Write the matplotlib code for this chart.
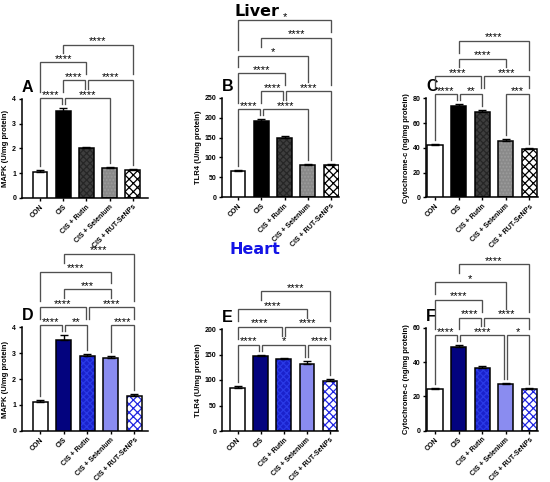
import matplotlib
matplotlib.use("Agg")
import matplotlib.pyplot as plt
import numpy as np

plt.rcParams['font.family'] = ['Liberation Sans', 'DejaVu Sans']
plt.rcParams['hatch.linewidth'] = 0.9

groups = ["CON", "CIS", "CIS + Rutin", "CIS + Selenium", "CIS + RUT-SeNPs"]

mapk_liver = [1.07, 3.52, 2.00, 1.22, 1.12]
mapk_liver_err = [0.05, 0.12, 0.08, 0.04, 0.05]
tlr4_liver = [66, 192, 150, 80, 81]
tlr4_liver_err = [3, 5, 5, 4, 3]
cyt_liver = [42.3, 74.0, 69.2, 45.3, 39.3]
cyt_liver_err = [1.0, 1.2, 1.0, 2.0, 0.8]

mapk_heart = [1.11, 3.52, 2.90, 2.80, 1.35]
mapk_heart_err = [0.06, 0.18, 0.08, 0.08, 0.06]
tlr4_heart = [85, 148, 141, 132, 98]
tlr4_heart_err = [3, 2, 3, 5, 3]
cyt_heart = [24.3, 48.9, 36.7, 27.2, 24.3]
cyt_heart_err = [0.6, 0.8, 0.7, 0.5, 0.7]

# (group i, group j, stacking level, label)
sig_A = [(0, 1, 1, "****"), (1, 3, 1, "****"), (1, 2, 2, "****"), (2, 4, 2, "****"),
         (0, 2, 3, "****"), (1, 4, 4, "****")]
sig_B = [(0, 1, 1, "****"), (1, 3, 1, "****"), (1, 2, 2, "****"), (2, 4, 2, "****"),
         (0, 2, 3, "****"), (0, 3, 4, "*"), (1, 4, 5, "****"), (0, 4, 6, "*")]
sig_C = [(0, 1, 1, "****"), (1, 2, 1, "**"), (3, 4, 1, "***"), (0, 2, 2, "****"),
         (2, 4, 2, "****"), (1, 3, 3, "****"), (1, 4, 4, "****")]
sig_D = [(0, 1, 1, "****"), (1, 2, 1, "**"), (3, 4, 1, "****"), (0, 2, 2, "****"),
         (2, 4, 2, "****"), (1, 3, 3, "***"), (0, 3, 4, "****"), (1, 4, 5, "****")]
sig_E = [(0, 1, 1, "****"), (1, 3, 1, "*"), (3, 4, 1, "****"), (0, 2, 2, "****"),
         (2, 4, 2, "****"), (0, 3, 3, "****"), (1, 4, 4, "****")]
sig_F = [(0, 1, 1, "****"), (1, 3, 1, "****"), (3, 4, 1, "*"), (1, 2, 2, "****"),
         (2, 4, 2, "****"), (0, 2, 3, "****"), (0, 3, 4, "*"), (1, 4, 5, "****")]

liver_style = [
    dict(face="white", hatch=None, hc=None),
    dict(face="black", hatch=None, hc=None),
    dict(face="#3e3e3e", hatch="xxxxx", hc="#262626"),
    dict(face="#8a8a8a", hatch=".....", hc="#9c9c9c"),
    dict(face="white", hatch="xxxx", hc="black"),
]
heart_style = [
    dict(face="white", hatch=None, hc=None),
    dict(face="#03037e", hatch=None, hc=None),
    dict(face="#1a22cc", hatch="xxxxx", hc="#2a3ae6"),
    dict(face="#8a8cf0", hatch=None, hc=None),
    dict(face="white", hatch="xxxx", hc="#1f24e0"),
]

W, H = 550, 482
fig = plt.figure(figsize=(W / 100, H / 100), dpi=100)

panels = [
    ("A", mapk_liver, mapk_liver_err, sig_A, liver_style, "MAPK (U/mg protein)", 4, 1,
     (21.7, 148.3, 99.0, 198.0), (-0.79, 4.67)),
    ("B", tlr4_liver, tlr4_liver_err, sig_B, liver_style, "TLR4 (U/mg protein)", 250, 50,
     (221.7, 339.3, 98.0, 197.0), (-0.70, 4.35)),
    ("C", cyt_liver, cyt_liver_err, sig_C, liver_style, "Cytochrome-c (ng/mg protein)", 80, 20,
     (426.0, 538.3, 98.3, 197.3), (-0.38, 4.38)),
    ("D", mapk_heart, mapk_heart_err, sig_D, heart_style, "MAPK (U/mg protein)", 4, 1,
     (21.7, 148.3, 327.3, 430.7), (-0.78, 4.60)),
    ("E", tlr4_heart, tlr4_heart_err, sig_E, heart_style, "TLR4 (U/mg protein)", 200, 50,
     (221.7, 338.3, 329.0, 431.0), (-0.69, 4.36)),
    ("F", cyt_heart, cyt_heart_err, sig_F, heart_style, "Cytochrome-c (ng/mg protein)", 60, 20,
     (426.0, 538.3, 327.7, 430.7), (-0.38, 4.38)),
]

bw = 0.64
line_c = "#505050"

for letter, vals, errs, sig, styles, ylab, ymax, step, (l, r, t, b), xlim in panels:
    ax = fig.add_axes([l / W, 1 - b / H, (r - l) / W, (b - t) / H])
    x = np.arange(len(vals))
    for i, (v, e, st) in enumerate(zip(vals, errs, styles)):
        if st["hatch"]:
            ax.bar(i, v, bw, color=st["face"], edgecolor=st["hc"], hatch=st["hatch"],
                   linewidth=0, zorder=2)
            ax.bar(i, v, bw, fill=False, edgecolor="black", linewidth=1.1, zorder=3)
        else:
            ax.bar(i, v, bw, color=st["face"], edgecolor="black", linewidth=1.1, zorder=3)
        ax.errorbar(i, v, yerr=[[0], [e]], fmt="none", ecolor="black", elinewidth=1.0,
                    capsize=2.6, capthick=1.0, zorder=4)
    ax.set_xlim(*xlim)
    ax.set_ylim(0, ymax)
    ax.set_yticks(np.arange(0, ymax + step / 2, step))
    ax.set_xticks(x)
    ax.set_xticklabels(groups, rotation=45, ha="right", rotation_mode="anchor",
                       fontsize=5, fontweight="bold")
    for lab in ax.get_yticklabels():
        lab.set_fontsize(5)
        lab.set_fontweight("bold")
    ax.tick_params(axis="both", direction="out", length=2.5, width=1.0, pad=1.5)
    ax.set_ylabel(ylab, fontsize=5.5, fontweight="bold", labelpad=2)
    for s in ["top", "right"]:
        ax.spines[s].set_visible(False)
    for s in ["left", "bottom"]:
        ax.spines[s].set_linewidth(1.1)
    ax.text(0.0, 1.04, letter, transform=ax.transAxes,
            fontsize=11.5, fontweight="bold", ha="left", va="bottom")

    # significance brackets
    ppu = (b - t) / ymax
    pxx = (r - l) / (xlim[1] - xlim[0])
    tops = [v + e for v, e in zip(vals, errs)]
    base = max(tops)

    def lev(k):
        return base + (10 + (k - 1) * 17.8) / ppu

    for (a, c, k, lab) in sig:
        y = lev(k)
        xa, xc = float(a), float(c)
        for (a2, c2, k2, _) in sig:
            if k2 == k and c2 == a:
                xa += 1.6 / pxx
            if k2 == k and a2 == c:
                xc -= 1.6 / pxx

        def leg_bottom(i):
            obs = [tops[i] + 4 / ppu]
            for (a2, c2, k2, _) in sig:
                if k2 < k and a2 <= i <= c2:
                    g = 6 if i in (a2, c2) else 9
                    obs.append(lev(k2) + g / ppu)
            return max(obs)

        ax.plot([xa, xa, xc, xc], [leg_bottom(a), y, y, leg_bottom(c)], color=line_c,
                lw=0.95, clip_on=False, zorder=5, solid_joinstyle="miter")
        ax.text((xa + xc) / 2, y + 0.3 / ppu, lab, ha="center", va="baseline",
                fontsize=8, color="black", clip_on=False)

fig.text(256.5 / W, 1 - 16 / H, "Liver", fontsize=11.5, fontweight="bold", color="black",
         ha="center", va="baseline", family=["DejaVu Sans"])
fig.text(255 / W, 1 - 254 / H, "Heart", fontsize=11.5, fontweight="bold", color="#1414e6",
         ha="center", va="baseline", family=["DejaVu Sans"])

fig.savefig("out.png", dpi=100)
